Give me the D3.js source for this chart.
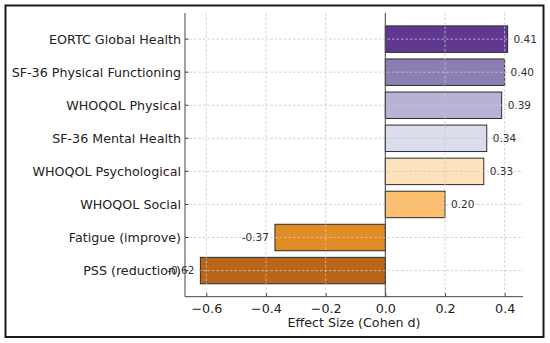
<!DOCTYPE html>
<html>
<head>
<meta charset="utf-8">
<script src="https://cdn.jsdelivr.net/npm/d3@7"></script>
<style>
  html, body { margin: 0; padding: 0; background: #fff; }
  svg { display: block; font-family: "DejaVu Sans", sans-serif; }
</style>
</head>
<body>
<svg id="chart" width="550" height="343"></svg>
<script>
// Data (top to bottom as shown)
const categories = [
    "EORTC Global Health",
    "SF-36 Physical Functioning",
    "WHOQOL Physical",
    "SF-36 Mental Health",
    "WHOQOL Psychological",
    "WHOQOL Social",
    "Fatigue (improve)",
    "PSS (reduction)"
];
const effects = [0.41, 0.40, 0.39, 0.34, 0.33, 0.20, -0.37, -0.62];
const xTicks = [-0.6, -0.4, -0.2, 0.0, 0.2, 0.4];

// PuOr, purple at the top
const palette = d3.schemePuOr[8];

const width = 550, height = 343;
const margin = { top: 13, right: 27, bottom: 46.3, left: 185 };

const svg = d3.select("#chart");

// Outer frame
svg.append("rect")
    .attr("x", 5.5).attr("y", 5.5)
    .attr("width", 538).attr("height", 331.5)
    .attr("fill", "none")
    .attr("stroke", "#1a1a1a")
    .attr("stroke-width", 2);

const x = d3.scaleLinear()
    .domain([-0.6715, 0.4615])
    .range([margin.left, width - margin.right]);

// barh-like band: 8 slots, 0.8 bar height, 5% margins
const yPos = d3.scaleLinear()
    .domain([categories.length - 1 + 0.79, -0.79])
    .range([margin.top, height - margin.bottom]);
const slot = Math.abs(yPos(1) - yPos(0));
const yc = (d, i) => yPos(categories.length - 1 - i);

const g = svg.append("g");

// Bars
g.selectAll("rect.bar")
    .data(effects)
    .enter().append("rect")
    .attr("class", "bar")
    .attr("x", d => x(Math.min(0, d)))
    .attr("width", d => Math.abs(x(d) - x(0)))
    .attr("y", (d, i) => yc(d, i) - slot * 0.4)
    .attr("height", slot * 0.8)
    .attr("fill", (d, i) => palette[i])
    .attr("fill-opacity", 0.92)
    .attr("stroke", "#2b2b2b")
    .attr("stroke-width", 1);

// Grid (drawn on top of the bars)
const grid = g.append("g")
    .attr("stroke", "#c8c8c8")
    .attr("stroke-width", 0.8)
    .attr("stroke-dasharray", "2.5,2");

grid.selectAll("line.v")
    .data(xTicks)
    .enter().append("line")
    .attr("x1", d => x(d)).attr("x2", d => x(d))
    .attr("y1", margin.top).attr("y2", height - margin.bottom);

grid.selectAll("line.h")
    .data(categories)
    .enter().append("line")
    .attr("x1", margin.left).attr("x2", width - margin.right)
    .attr("y1", (d, i) => yc(d, i)).attr("y2", (d, i) => yc(d, i));

// Zero line
g.append("line")
    .attr("x1", x(0)).attr("x2", x(0))
    .attr("y1", margin.top).attr("y2", height - margin.bottom)
    .attr("stroke", "#444")
    .attr("stroke-width", 1);

// Value labels
g.selectAll("text.val")
    .data(effects)
    .enter().append("text")
    .attr("class", "val")
    .attr("x", d => d >= 0 ? x(d + 0.02) : x(d - 0.02))
    .attr("y", (d, i) => yc(d, i))
    .attr("dy", "0.35em")
    .attr("text-anchor", d => d >= 0 ? "start" : "end")
    .attr("font-size", 10.5)
    .attr("fill", "#333")
    .text(d => d.toFixed(2));

// Axes
const xAxis = d3.axisBottom(x)
    .tickValues(xTicks)
    .tickSize(-3.5)
    .tickPadding(7)
    .tickFormat(d => d3.format(".1f")(d).replace("-", "\u2212"));

const axB = svg.append("g")
    .attr("transform", `translate(0,${height - margin.bottom})`)
    .call(xAxis);
axB.select(".domain").attr("stroke", "#444").attr("d", `M${margin.left},0H${width - margin.right}`);
axB.selectAll(".tick line").attr("stroke", "#444");
axB.selectAll(".tick text").attr("font-size", 12.7).attr("fill", "#222")
    .attr("font-family", "DejaVu Sans, sans-serif");

const axL = svg.append("g")
    .attr("transform", `translate(${margin.left},0)`);
axL.append("line")
    .attr("x1", 0).attr("x2", 0)
    .attr("y1", margin.top).attr("y2", height - margin.bottom)
    .attr("stroke", "#444");
const yt = axL.selectAll("g.tick")
    .data(categories)
    .enter().append("g")
    .attr("transform", (d, i) => `translate(0,${yc(d, i)})`);
yt.append("line").attr("x2", 3.5).attr("stroke", "#444");
yt.append("text")
    .attr("x", -4)
    .attr("dy", "0.35em")
    .attr("text-anchor", "end")
    .attr("font-size", 12.7)
    .attr("fill", "#222")
    .text(d => d);

// Axis title
svg.append("text")
    .attr("x", (margin.left + width - margin.right) / 2)
    .attr("y", 327)
    .attr("text-anchor", "middle")
    .attr("font-size", 12.7)
    .attr("fill", "#222")
    .text("Effect Size (Cohen d)");
</script>
</body>
</html>
